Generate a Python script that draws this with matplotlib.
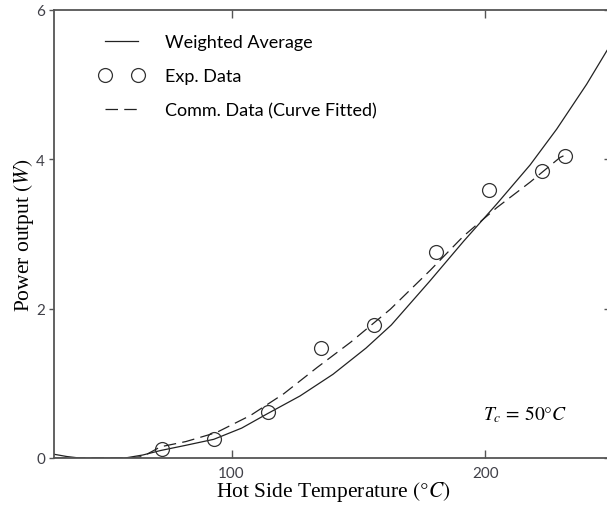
import numpy as np
import matplotlib.pyplot as plt

plt.rcParams['mathtext.fontset'] = 'stix'

# weighted average curve
avg_temp = [30, 35, 40, 50, 58, 65, 72, 82, 93, 104, 114, 127, 140, 153, 163,
            178, 191.5, 204.6, 217.7, 228.2, 240, 248, 250]
avg_power = [0.05, 0.02, 0.0, 0.0, 0.0, 0.04, 0.10, 0.17, 0.25, 0.40, 0.59, 0.83,
             1.12, 1.47, 1.78, 2.36, 2.90, 3.40, 3.92, 4.40, 5.00, 5.45, 5.55]

# experimental data
exp_temp = [72.4, 93.2, 114.2, 135.3, 156.3, 180.5, 201.4, 222.4, 231.6]
exp_power = [0.12, 0.25, 0.61, 1.47, 1.78, 2.75, 3.58, 3.84, 4.04]

# commercial data, curve fitted
comm_temp = [30, 40, 50, 60, 65, 72, 82, 94, 107.5, 120.6, 133.7, 147, 162.6,
             178.3, 191.5, 204.6, 217.7, 229.5, 232]
comm_power = [0.0, 0.0, 0.0, 0.0, 0.02, 0.15, 0.22, 0.34, 0.57, 0.86, 1.21, 1.55,
              1.99, 2.51, 2.97, 3.35, 3.69, 4.02, 4.06]

fig = plt.figure(figsize=(6.07, 5.10), dpi=100)
ax = fig.add_axes([54 / 607, 51 / 510, 558 / 607, 448.5 / 510])

line_col = '#222222'
ax.plot(avg_temp, avg_power, '-', color=line_col, lw=0.9, label='Weighted Average')
ax.plot(exp_temp, exp_power, 'o', mfc='none', mec='#333333', mew=0.9, ms=10,
        label='Exp. Data')
ax.plot(comm_temp, comm_power, '--', color=line_col, lw=0.9, dashes=(10, 5),
        label='Comm. Data (Curve Fitted)')

ax.set_xlim(30, 250)
ax.set_ylim(0, 6)
ax.set_xticks([100, 200])
ax.set_yticks([0, 2, 4, 6])

for s in ax.spines.values():
    s.set_color('#555555')
    s.set_linewidth(1.3)

tick_font = 'Lato'
ax.tick_params(axis='x', direction='in', top=True, length=6, width=1,
               color='#555555', pad=6, labelsize=11, labelcolor='#404048')
ax.tick_params(axis='y', which='both', left=True, right=True, length=3.5, width=1,
               color='#555555', pad=3, labelsize=11, labelcolor='#404048')
for lab in ax.get_xticklabels() + ax.get_yticklabels():
    lab.set_fontfamily(tick_font)
# right-side ticks point inward
for t in ax.yaxis.get_major_ticks():
    t.tick2line.set_marker(0)
    t.tick2line.set_markersize(6)

ax.set_xlabel(r'Hot Side Temperature $(\degree C)$', family='Liberation Serif',
              fontsize=15.5, va='top')
ax.xaxis.set_label_coords(0.5, -0.047)
ax.set_ylabel(r'Power output $(W)$', family='Liberation Serif', fontsize=15.5,
              va='center')
ax.yaxis.set_label_coords(-0.054, 0.5)

ax.text(199, 0.59, r'$T_c\, =\, 50\degree C$', fontsize=14, va='center', ha='left')

ax.legend(loc='upper left', bbox_to_anchor=(0.082, 0.945), frameon=False,
          numpoints=2, handlelength=2.4, handletextpad=1.2, labelspacing=1.0,
          borderpad=0, borderaxespad=0, prop={'family': 'Lato', 'size': 13})

fig.savefig('out.png', dpi=100)
